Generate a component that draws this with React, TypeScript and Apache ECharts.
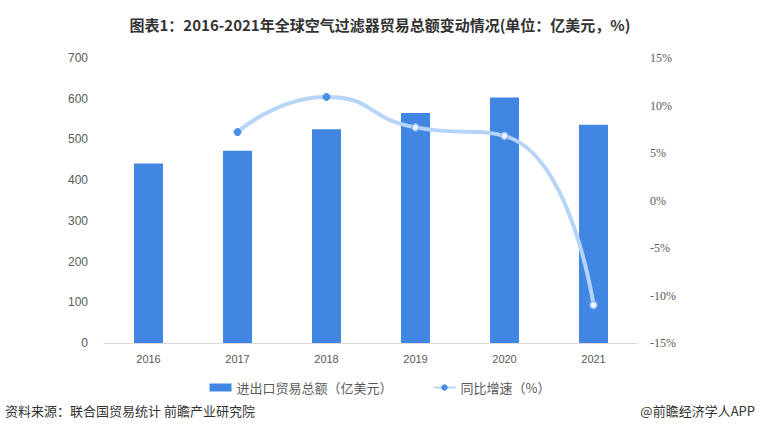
import React, { useEffect, useRef } from "react";
import * as echarts from "echarts";

const years = ["2016", "2017", "2018", "2019", "2020", "2021"];
const tradeTotal = [441, 472, 525, 565, 603, 536];
const growth = [null, 7.2, 10.9, 7.7, 6.8, -11.0];
const barName = "进出口贸易总额（亿美元）";
const lineName = "同比增速（%）";

export default function App() {
  const ref = useRef<HTMLDivElement>(null);
  useEffect(() => {
    const chart = echarts.init(ref.current!, null, { renderer: "svg" });
    const lineData = growth.map((v, i) => {
      if (v === null) return null;
      const filled = i <= 2;
      return {
        value: v,
        itemStyle: filled
          ? { color: "#4a8ee6", borderColor: "#4a8ee6", borderWidth: 1 }
          : { color: "#eef5fd", borderColor: "#8dbaf0", borderWidth: 1.5 },
      };
    });
    chart.setOption({
      animation: false,
      backgroundColor: "#fff",
      title: {
        text: "图表1：2016-2021年全球空气过滤器贸易总额变动情况(单位：亿美元，%)",
        left: "center",
        top: 12,
        textStyle: {
          fontFamily: "Noto Sans CJK SC",
          fontWeight: "bold",
          fontSize: 15,
          color: "#333",
        },
      },
      grid: { left: 104, right: 122, top: 58, bottom: 101 },
      legend: {
        bottom: 45,
        left: "center",
        itemGap: 40,
        itemWidth: 22,
        itemHeight: 8,
        textStyle: { color: "#595959", fontSize: 13, fontFamily: "Noto Sans CJK SC" },
        data: [
          { name: barName, icon: "rect" },
          { name: lineName },
        ],
      },
      xAxis: {
        type: "category",
        data: years,
        axisLine: { lineStyle: { color: "#d9d9d9" } },
        axisTick: { show: false },
        axisLabel: { color: "#595959", fontSize: 11, margin: 10 },
      },
      yAxis: [
        {
          type: "value",
          min: 0,
          max: 700,
          interval: 100,
          axisLine: { show: false },
          axisTick: { show: false },
          splitLine: { show: false },
          axisLabel: { color: "#595959", fontSize: 12, margin: 16 },
        },
        {
          type: "value",
          min: -15,
          max: 15,
          interval: 5,
          axisLine: { show: false },
          axisTick: { show: false },
          splitLine: { show: false },
          axisLabel: {
            color: "#595959",
            fontSize: 12,
            margin: 12,
            fontFamily: "Liberation Serif",
            formatter: "{value}%",
          },
        },
      ],
      series: [
        {
          name: barName,
          type: "bar",
          data: tradeTotal,
          barWidth: 29,
          itemStyle: { color: "#4286e3" },
        },
        {
          name: lineName,
          type: "line",
          yAxisIndex: 1,
          data: lineData,
          smooth: 0.55,
          symbol: "circle",
          symbolSize: 7,
          lineStyle: { color: "#b5d4f8", width: 4 },
          itemStyle: { color: "#4a8ee6" },
        },
      ],
      graphic: [
        {
          type: "text",
          x: 5,
          y: 404,
          style: {
            text: "资料来源：联合国贸易统计 前瞻产业研究院",
            fontSize: 13,
            fill: "#333",
            fontFamily: "Noto Sans CJK SC",
          },
        },
        {
          type: "text",
          x: 755,
          y: 404,
          style: {
            text: "@前瞻经济学人APP",
            fontSize: 13,
            fill: "#333",
            align: "right",
            fontFamily: "Noto Sans CJK SC",
          },
        },
      ],
    });
    return () => chart.dispose();
  }, []);
  return (
    <div
      ref={ref}
      style={{ position: "absolute", left: 0, top: 0, width: 760, height: 444 }}
    />
  );
}
